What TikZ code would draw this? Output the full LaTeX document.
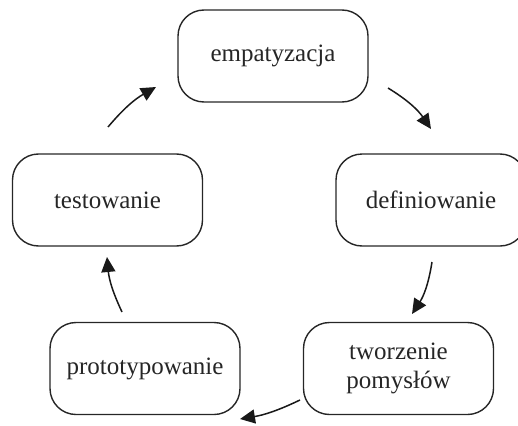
\documentclass[tikz,border=0pt]{standalone}
\usepackage{fontspec}
\setmainfont{Liberation Serif}
\usetikzlibrary{arrows.meta}
\begin{document}
\begin{tikzpicture}[x=1pt,y=-1pt,
  stage/.style={draw=black!85,line width=1.4pt,rounded corners=26pt,minimum width=190pt,minimum height=92pt,align=center,font=\fontsize{25}{29}\selectfont,text=black!85,inner sep=0pt},
  flow/.style={line width=1.5pt,draw=black!90,-{Triangle[length=15pt,width=14pt]}}]
\useasboundingbox (0,0) rectangle (518,425);
\node[stage] (emp) at (273,56) {empatyzacja};
\node[stage] (def) at (431,200) {definiowanie};
\node[stage] (tes) at (107.5,200) {testowanie};
\node[stage] (two) at (398.5,368.5) {tworzenie\\pomysłów};
\node[stage] (pro) at (145,368.5) {prototypowanie};
\coordinate (a1) at (388,88);  \coordinate (b1) at (431,129);
\coordinate (a2) at (432,262); \coordinate (b2) at (412,314);
\coordinate (a3) at (300,400); \coordinate (b3) at (240,419);
\coordinate (a4) at (122,312); \coordinate (b4) at (107,257);
\coordinate (a5) at (108,127); \coordinate (b5) at (156,87);
\draw[flow] (a1) to[bend left=12] (b1);
\draw[flow] (a2) to[bend left=12] (b2);
\draw[flow] (a3) to[bend left=8] (b3);
\draw[flow] (a4) to[bend left=10] (b4);
\draw[flow] (a5) to[bend left=10] (b5);
\end{tikzpicture}
\end{document}
